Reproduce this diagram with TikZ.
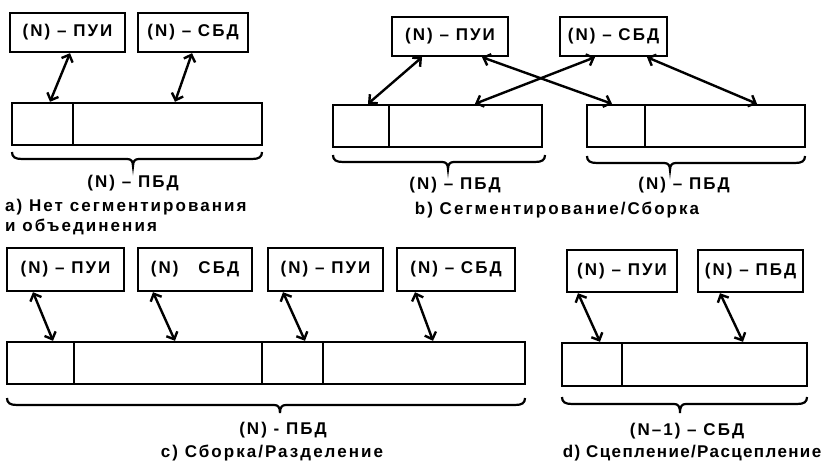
\documentclass[tikz,border=0pt]{standalone}
\usepackage{fontspec}
\setmainfont{Liberation Sans}[BoldFont={* Bold},LetterSpace=12]
\usetikzlibrary{arrows.meta}
\newcommand\mybrace[6]{%
  \draw[brc] ({#1},{#4}) .. controls ({#1},{#5-2}) and ({#1+3},{#5}) .. ({#1+10},{#5})
    -- ({#3-6},{#5}) .. controls ({#3-2},{#5}) and ({#3},{#5+2}) .. ({#3},{#6})
    .. controls ({#3},{#5+2}) and ({#3+2},{#5}) .. ({#3+6},{#5})
    -- ({#2-10},{#5}) .. controls ({#2-3},{#5}) and ({#2},{#5-2}) .. ({#2},{#4});}
\begin{document}
\begin{tikzpicture}[x=1pt,y=-1pt,
  every node/.style={font=\fontsize{17}{20}\selectfont\bfseries},
  lbox/.style={draw,line width=2.4pt,inner sep=0pt,minimum height=39pt},
  cell/.style={draw,line width=2.4pt,inner sep=0pt,minimum height=42pt},
  dar/.style={{Straight Barb[length=6pt,width=12pt]}-{Straight Barb[length=6pt,width=12pt]},line width=2.4pt},
  brc/.style={line width=2.2pt},
  txt/.style={inner sep=0pt}]
\useasboundingbox (0,0) rectangle (825,462);
% ---------- panel a
\node[lbox,minimum width=115pt] (pa1) at (67.5,32.5) {(N) -- ПУИ};
\node[lbox,minimum width=110pt] (pa2) at (193,32.5) {(N) -- СБД};
\node[cell,minimum width=61pt] (ha) at (42.5,124) {};
\node[cell,minimum width=189pt] (da) at (167.5,124) {};
\draw[dar] ([xshift=2.5pt]pa1.south) -- ([xshift=7.5pt]ha.north);
\draw[dar] ([xshift=-1pt]pa2.south) -- ([xshift=7.5pt]da.north);
\mybrace{12}{262}{133}{152}{159}{166}
\node[txt] (la) at (133,183) {(N) -- ПБД};
\node[txt,anchor=west] (ca1) at (5,207) {a) Нет сегментирования};
\node[txt,anchor=west] (ca2) at (5,227) {и объединения};
% ---------- panel b
\node[lbox,minimum width=116pt] (pb1) at (450,36.5) {(N) -- ПУИ};
\node[lbox,minimum width=107pt] (pb2) at (613.5,36.5) {(N) -- СБД};
\node[cell,minimum width=56pt] (hb1) at (361,126) {};
\node[cell,minimum width=153pt] (db1) at (465.5,126) {};
\node[cell,minimum width=58pt] (hb2) at (616,126) {};
\node[cell,minimum width=160pt] (db2) at (725,126) {};
\draw[dar] ([xshift=-28pt]pb1.south) -- ([xshift=7pt]hb1.north);
\draw[dar] ([xshift=32pt]pb1.south) -- ([xshift=-4pt]hb2.north);
\draw[dar] ([xshift=-18.5pt]pb2.south) -- ([xshift=9.5pt]db1.north);
\draw[dar] ([xshift=33.5pt]pb2.south) -- ([xshift=32pt]db2.north);
\mybrace{333}{545}{448}{155}{162}{169}
\mybrace{587}{805}{670}{156}{163}{170}
\node[txt] (lb1) at (455,185) {(N) -- ПБД};
\node[txt] (lb2) at (684,185) {(N) -- ПБД};
\node[txt] (cb) at (557,210) {b) Сегментирование/Сборка};
% ---------- panel c
\node[lbox,minimum width=117pt,minimum height=43pt] (pc1) at (65.5,269.5) {(N) -- ПУИ};
\node[lbox,minimum width=114pt,minimum height=43pt] (pc2) at (195,269.5) {(N)\hspace{20pt}СБД};
\node[lbox,minimum width=115pt,minimum height=43pt] (pc3) at (325.5,269.5) {(N) -- ПУИ};
\node[lbox,minimum width=118pt,minimum height=43pt] (pc4) at (456,269.5) {(N) -- СБД};
\node[cell,minimum width=67pt] (hc1) at (40.5,363) {};
\node[cell,minimum width=188pt] (dc1) at (168,363) {};
\node[cell,minimum width=61pt] (hc2) at (292.5,363) {};
\node[cell,minimum width=202pt] (dc2) at (424,363) {};
\draw[dar] ([xshift=-32.5pt]pc1.south) -- ([xshift=12.5pt]hc1.north);
\draw[dar] ([xshift=-42pt]pc2.south) -- ([xshift=7pt]dc1.north);
\draw[dar] ([xshift=-42.5pt]pc3.south) -- ([xshift=12.5pt]hc2.north);
\draw[dar] ([xshift=-41pt]pc4.south) -- ([xshift=9pt]dc2.north);
\mybrace{7}{525}{280}{398}{405}{413}
\node[txt] (lc) at (283,430) {(N) - ПБД};
\node[txt] (cc) at (272,453) {c) Сборка/Разделение};
% ---------- panel d
\node[lbox,minimum width=110pt,minimum height=42pt] (pd1) at (622,271) {(N) -- ПУИ};
\node[lbox,minimum width=105pt,minimum height=42pt] (pd2) at (750.5,271) {(N) -- ПБД};
\node[cell,minimum width=60pt,minimum height=43pt] (hd) at (592,364.5) {};
\node[cell,minimum width=185pt,minimum height=43pt] (dd) at (714.5,364.5) {};
\draw[dar] ([xshift=-44pt]pd1.south) -- ([xshift=8pt]hd.north);
\draw[dar] ([xshift=-30.5pt]pd2.south) -- ([xshift=28.5pt]dd.north);
\mybrace{562}{807}{680}{397}{404}{413}
\node[txt] (ld) at (687,431) {(N--1) -- СБД};
\node[txt] (cd) at (692,453) {\addfontfeatures{LetterSpace=8}d) Сцепление/Расцепление};
\end{tikzpicture}
\end{document}
